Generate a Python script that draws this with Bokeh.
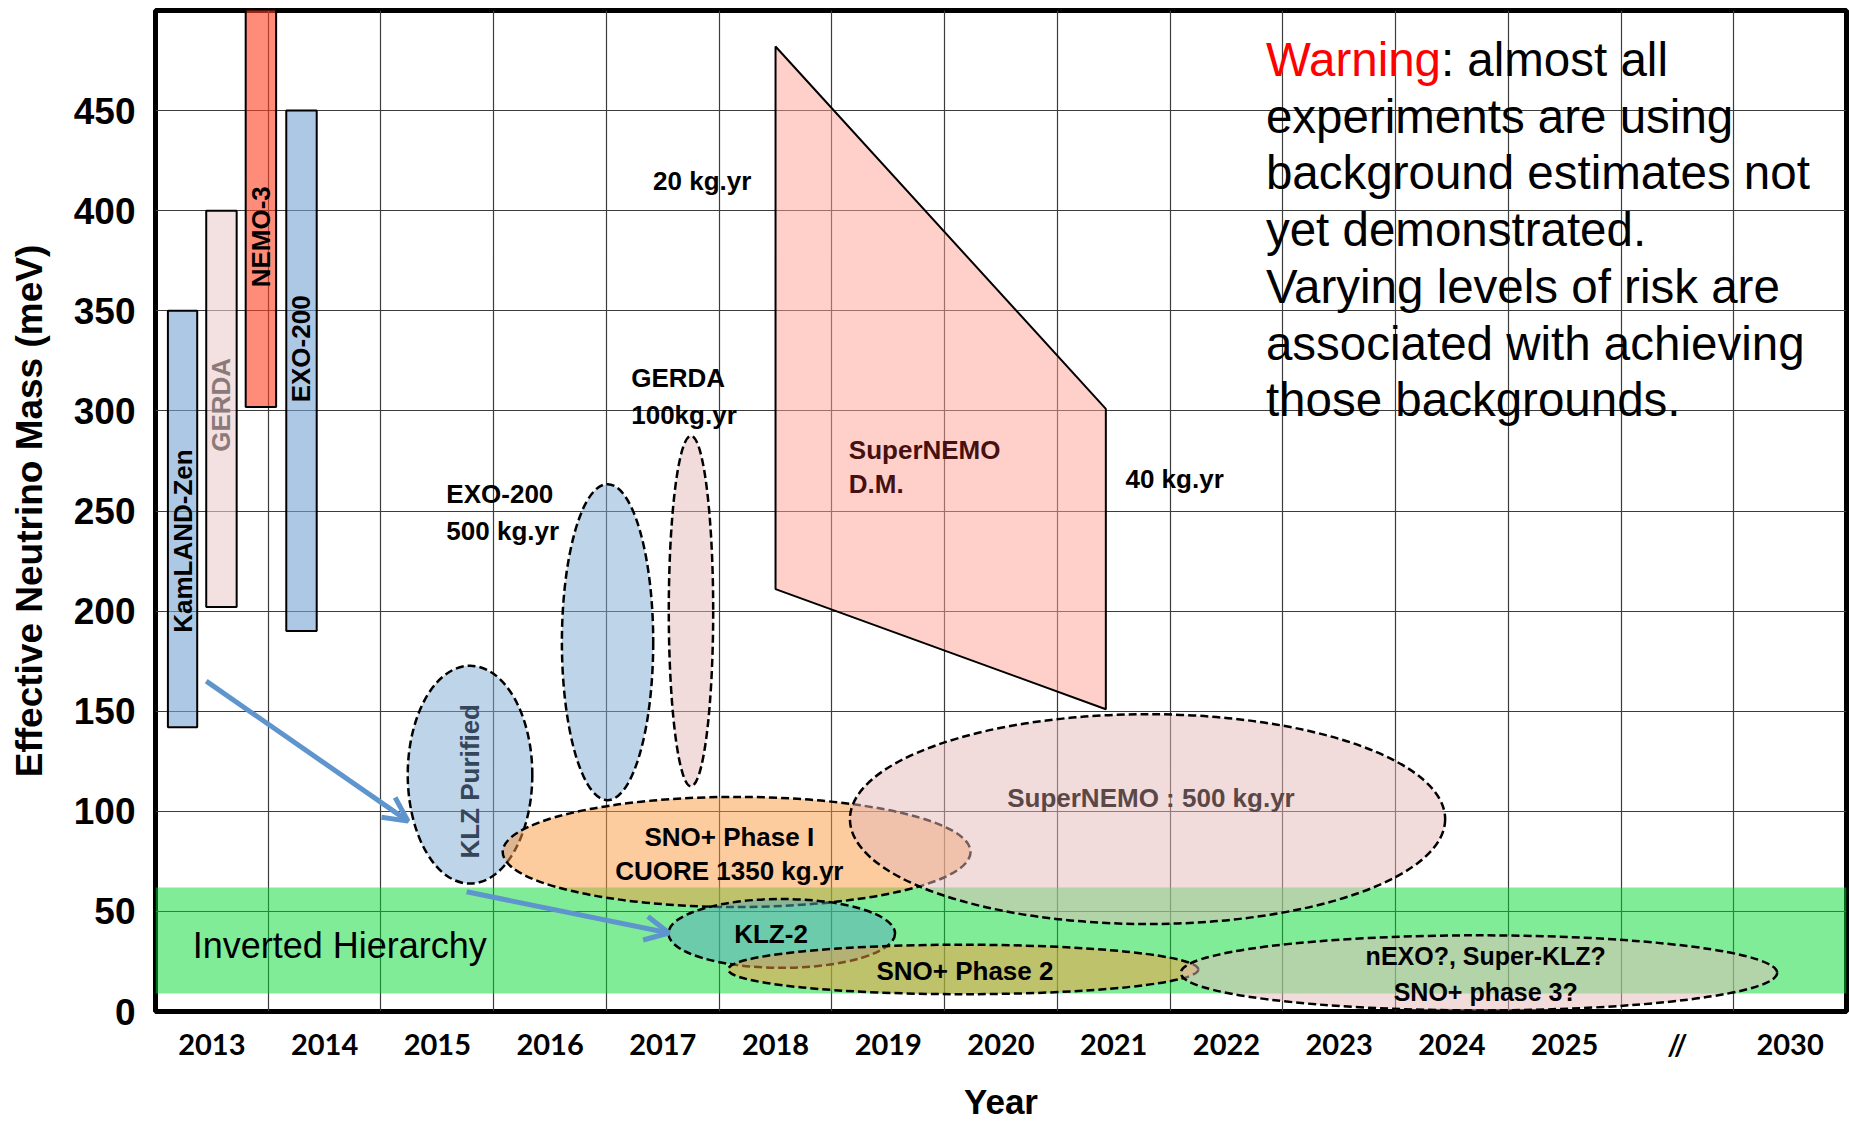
import math
from bokeh.plotting import figure
from bokeh.models import Range1d, FixedTicker, BoxAnnotation, Arrow, OpenHead
from bokeh.core.properties import value
from bokeh.embed import file_html
from bokeh.resources import INLINE

# ---------------- data ----------------
x_ticks = list(range(2013, 2028))
x_tick_labels = [str(y) for y in range(2013, 2026)] + ["//", "2030"]
y_ticks = list(range(0, 451, 50))

# current experimental limits (bars)
bar_names = ["KamLAND-Zen", "GERDA", "NEMO-3", "EXO-200"]
bar_left = [2012.61, 2012.95, 2013.30, 2013.66]
bar_right = [2012.87, 2013.22, 2013.57, 2013.93]
bar_low = [142, 202, 302, 190]
bar_high = [350, 400, 505, 450]
bar_label_y = [235, 303, 387, 331]

# SuperNEMO demonstrator band (20 kg.yr -> 40 kg.yr)
dm_x = [2018.0, 2020.93, 2020.93, 2018.0]
dm_y = [482, 301, 151, 211]

# projected sensitivities (ellipses)
ell_names = ["EXO-200 500 kg.yr", "GERDA 100kg.yr", "KLZ Purified",
             "SNO+ Phase I / CUORE", "SuperNEMO 500 kg.yr",
             "KLZ-2", "SNO+ Phase 2", "nEXO / Super-KLZ / SNO+ 3"]
ell_x = [2016.51, 2017.25, 2015.29, 2017.655, 2021.30, 2018.055, 2019.665, 2024.24]
ell_y = [184.5, 200.0, 118.3, 79.7, 96.1, 39.0, 21.0, 19.3]
ell_w = [0.81, 0.394, 1.105, 4.15, 5.28, 2.01, 4.17, 5.29]
ell_h = [158.0, 175.3, 108.9, 55.0, 104.8, 34.4, 24.7, 37.5]

# inverted hierarchy band
ih_low, ih_high = 9, 62

# arrows
arr_x0 = [2012.95, 2015.26]
arr_y0 = [165.0, 59.8]
arr_x1 = [2014.74, 2017.055]
arr_y1 = [95.1, 39.2]

warning_lines = ["experiments are using", "background estimates not",
                 "yet demonstrated.", "Varying levels of risk are",
                 "associated with achieving", "those backgrounds."]

# ---------------- figure ----------------
FONT = value("Liberation Sans")
p = figure(width=1849, height=1123, output_backend="svg", toolbar_location=None,
           x_range=Range1d(2012.5, 2027.5), y_range=Range1d(0, 500),
           min_border_left=155, min_border_right=3, min_border_top=10,
           min_border_bottom=111)
p.outline_line_color = "black"
p.outline_line_width = 5

p.xaxis.ticker = FixedTicker(ticks=x_ticks)
p.xaxis.major_label_overrides = {t: l for t, l in zip(x_ticks, x_tick_labels)}
p.yaxis.ticker = FixedTicker(ticks=y_ticks)
p.xgrid.ticker = FixedTicker(ticks=[t + 0.5 for t in x_ticks[:-1]])
p.ygrid.ticker = FixedTicker(ticks=y_ticks[1:])
for g in (p.xgrid, p.ygrid):
    g.grid_line_color = "#3c3c3c"
    g.grid_line_width = 1.2

for ax in (p.xaxis, p.yaxis):
    ax.axis_line_color = None
    ax.major_tick_line_color = None
    ax.minor_tick_line_color = None
    ax.major_tick_out = 0
    ax.major_tick_in = 0
    ax.axis_label_text_font = "Liberation Sans"
    ax.axis_label_text_font_style = "bold"
    ax.axis_label_text_color = "black"
    ax.major_label_text_color = "black"

p.xaxis.major_label_text_font = "Lato"
p.xaxis.major_label_text_font_style = "bold"
p.xaxis.major_label_text_font_size = "29px"
p.xaxis.major_label_standoff = 14
p.xaxis.axis_label = "Year"
p.xaxis.axis_label_text_font_size = "35px"
p.xaxis.axis_label_standoff = 18

p.yaxis.major_label_text_font = "Liberation Sans"
p.yaxis.major_label_text_font_style = "bold"
p.yaxis.major_label_text_font_size = "37px"
p.yaxis.major_label_standoff = 20
p.yaxis.axis_label = "Effective Neutrino Mass (meV)"
p.yaxis.axis_label_text_font_size = "37px"
p.yaxis.axis_label_standoff = 21

# inverted hierarchy band
p.add_layout(BoxAnnotation(bottom=ih_low, top=ih_high, fill_color="#01D931",
                           fill_alpha=0.5, line_color=None, level="underlay"))

# bars
bar_fill = ["#76A3D2", "#EBCBCB", "#FF3F1E", "#76A3D2"]
p.quad(left=bar_left, right=bar_right, bottom=bar_low, top=bar_high,
       fill_color=bar_fill, fill_alpha=0.6, line_color="black", line_width=2)

# SuperNEMO demonstrator
p.patch(dm_x, dm_y, fill_color="#FFA195", fill_alpha=0.5,
        line_color="black", line_width=2)

# ellipses
ell_fill = ["#7DA9D3", "#E5B9B7", "#7DA9D3", "#F9973D", "#E5B9B7",
            "#58A9BC", "#F9973D", "#E5B9B7"]
p.ellipse(x=ell_x, y=ell_y, width=ell_w, height=ell_h,
          fill_color=ell_fill, fill_alpha=0.5,
          line_color="black", line_width=2.5, line_dash="8 4")

# arrows
for x0, y0, x1, y1 in zip(arr_x0, arr_y0, arr_x1, arr_y1):
    p.add_layout(Arrow(x_start=x0, y_start=y0, x_end=x1, y_end=y1,
                       line_color="#5F95CD", line_width=5,
                       end=OpenHead(line_color="#5F95CD", line_width=5, size=24)))

# ---------------- texts ----------------
def txt(x, y, s, size="26px", color="black", align="center", angle=0.0,
        style="bold", lh=1.2):
    p.text(x=[x], y=[y], text=[s], angle=angle, text_font=FONT,
           text_font_style=style, text_font_size=size, text_color=color,
           text_align=align, text_baseline="middle", text_line_height=lh)

bar_text_color = ["black", "#8A7A7A", "black", "black"]
for i, name in enumerate(bar_names):
    cx = (bar_left[i] + bar_right[i]) / 2
    txt(cx, bar_label_y[i], name, color=bar_text_color[i], angle=math.pi / 2)

txt(ell_x[2], 115, "KLZ Purified", color="#36465A", angle=math.pi / 2)
txt(2015.08, 249.3, "EXO-200\n500 kg.yr", align="left", lh=1.24)
txt(2016.72, 307, "GERDA\n100kg.yr", align="left", lh=1.24)
txt(2017.35, 415, "20 kg.yr")
txt(2021.54, 266, "40 kg.yr")
txt(2018.65, 272, "SuperNEMO\nD.M.", color="#461010", align="left", lh=1.15)
txt(2017.59, 78.7, "SNO+ Phase I\nCUORE 1350 kg.yr", lh=1.14)
txt(2021.33, 106.6, "SuperNEMO : 500 kg.yr", color="#5A4848")
txt(2017.96, 38.7, "KLZ-2")
txt(2019.68, 20.4, "SNO+ Phase 2")
txt(2024.3, 18.6, "nEXO?, Super-KLZ?\nSNO+ phase 3?", size="25px", lh=1.29)
txt(2012.83, 33, "Inverted Hierarchy", size="36px", align="left", style="normal")

# warning block
wx, wy, step = 2022.35, 475.6, 28.35
p.text(x=[wx], y=[wy], text=["Warning"], text_font=FONT, text_font_size="47.5px",
       text_color="#FF0000", text_align="left", text_baseline="middle")
p.text(x=[wx], y=[wy], text=[": almost all"], x_offset=175, text_font=FONT,
       text_font_size="47.5px", text_color="black", text_align="left",
       text_baseline="middle")
p.text(x=[wx] * len(warning_lines),
       y=[wy - step * (i + 1) for i in range(len(warning_lines))],
       text=warning_lines, text_font=FONT, text_font_size="47.5px",
       text_color="black", text_align="left", text_baseline="middle")

open("out.html", "w").write(file_html(p, INLINE))
